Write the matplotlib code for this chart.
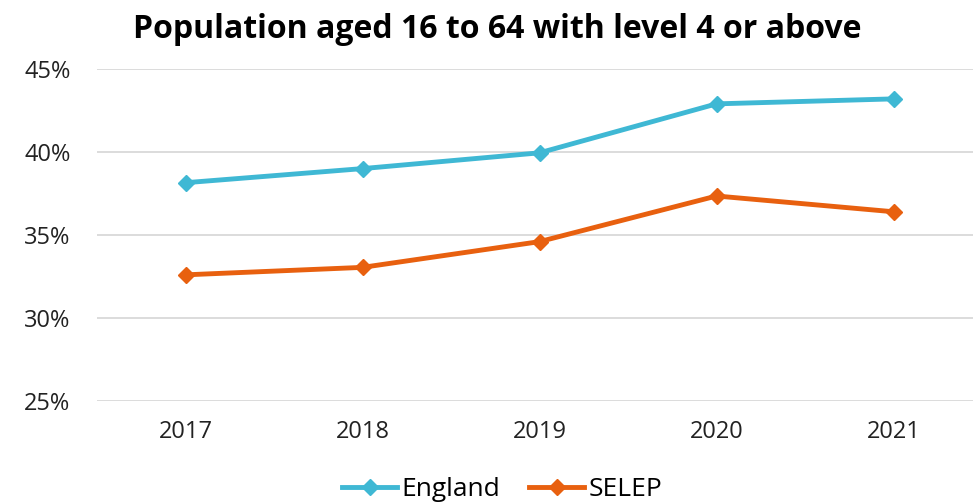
import matplotlib
matplotlib.use("Agg")
import matplotlib.pyplot as plt
from matplotlib.ticker import FuncFormatter

years = ["2017", "2018", "2019", "2020", "2021"]
england = [38.15, 39.0, 39.95, 42.9, 43.2]
selep = [32.6, 33.05, 34.6, 37.35, 36.4]
yticks = [25, 30, 35, 40, 45]

plt.rcParams["font.family"] = ["Open Sans", "DejaVu Sans"]

fig = plt.figure(figsize=(9.73, 5.04), dpi=100)
ax = fig.add_axes([97 / 973, 103 / 504, 885 / 973, 332 / 504])

x = range(len(years))
ax.plot(x, england, color="#3FB8D4", lw=3.5, marker="D", ms=8, label="England")
ax.plot(x, selep, color="#E8600F", lw=3.5, marker="D", ms=8, label="SELEP")

ax.set_xlim(-0.5, len(years) - 0.5)
ax.set_ylim(25, 45)
ax.set_yticks(yticks)
ax.yaxis.set_major_formatter(FuncFormatter(lambda v, p: f"{v:.0f}%"))
ax.set_xticks(list(x))
ax.set_xticklabels(years)
ax.tick_params(axis="both", length=0, labelsize=17, colors="#222222")
ax.tick_params(axis="y", pad=19)
ax.tick_params(axis="x", pad=14)
ax.grid(axis="y", color="#D9D9D9", lw=1.3)
ax.set_axisbelow(True)
for s in ax.spines.values():
    s.set_visible(False)

fig.text(497 / 973, 1 - 30 / 504, "Population aged 16 to 64 with level 4 or above",
         ha="center", va="center", fontsize=23, fontweight="bold", color="#000000")

fig.legend(loc="center", bbox_to_anchor=(502 / 973, 1 - 490 / 504), ncol=2,
           frameon=False, fontsize=19, handlelength=2.1, columnspacing=1.1,
           handletextpad=0.15)

fig.savefig("out.png", dpi=100)
